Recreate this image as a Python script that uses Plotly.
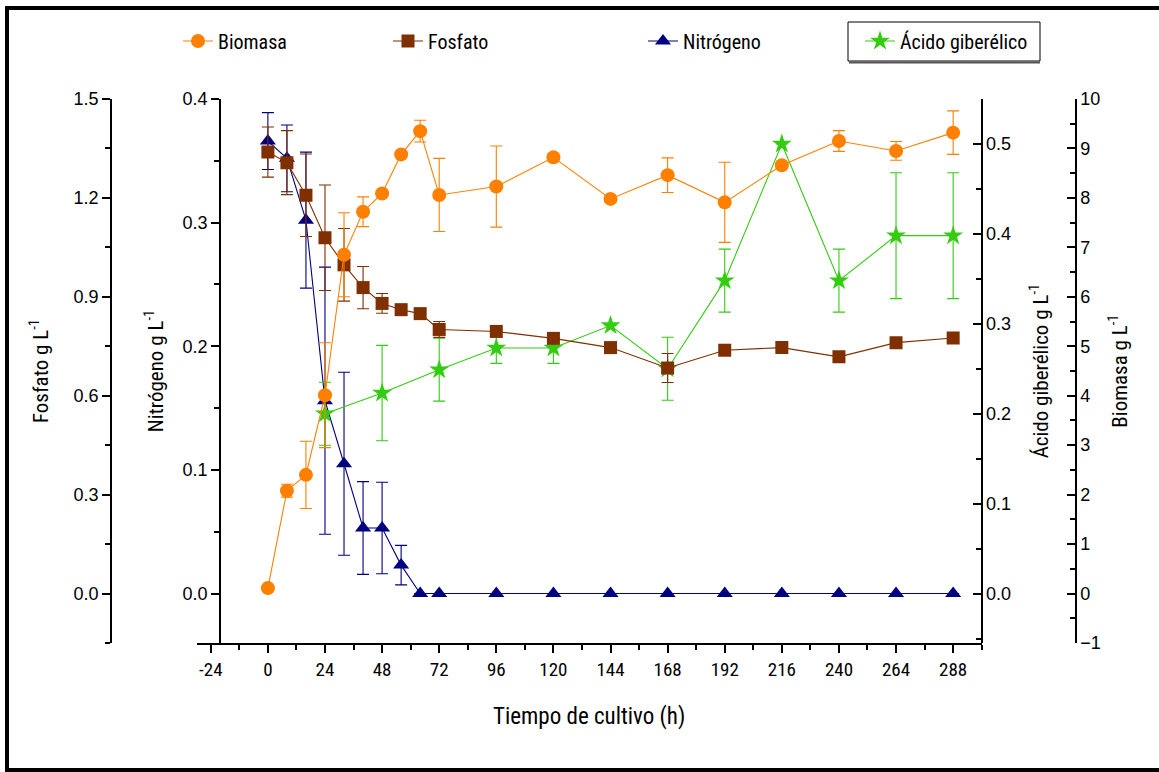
import plotly.graph_objects as go

# ---------------- data ----------------
tiempo = [0, 8, 16, 24, 32, 40, 48, 56, 64, 72, 96, 120, 144, 168, 192, 216, 240, 264, 288]

biomasa = [0.11, 2.08, 2.40, 4.01, 6.85, 7.72, 8.09, 8.88, 9.35, 8.06,
           8.23, 8.82, 7.98, 8.46, 7.91, 8.66, 9.15, 8.95, 9.32]
biomasa_err = [0, 0.13, 0.68, 1.06, 0.85, 0.30, 0.05, 0.05, 0.22, 0.74,
               0.82, 0.08, 0.05, 0.35, 0.81, 0.05, 0.21, 0.19, 0.44]

fosfato = [1.339, 1.307, 1.208, 1.079, 0.997, 0.928, 0.880, 0.861, 0.849, 0.801,
           0.795, 0.774, 0.746, 0.684, 0.738, 0.746, 0.718, 0.761, 0.775]
fosfato_err = [0.076, 0.097, 0.125, 0.160, 0.110, 0.064, 0.030, 0.010, 0.015, 0.024,
               0, 0, 0, 0.044, 0, 0, 0, 0, 0]

nitrogeno = [0.366, 0.352, 0.302, 0.156, 0.105, 0.053, 0.053, 0.023, 0, 0,
             0, 0, 0, 0, 0, 0, 0, 0, 0]
nitrogeno_err = [0.023, 0.027, 0.055, 0.108, 0.074, 0.0375, 0.037, 0.016, 0, 0,
                 0, 0, 0, 0, 0, 0, 0, 0, 0]

tiempo_ag = [24, 48, 72, 96, 120, 144, 168, 192, 216, 240, 264, 288]
acido = [0.200, 0.223, 0.249, 0.273, 0.273, 0.298, 0.250, 0.348, 0.500, 0.348, 0.398, 0.398]
acido_err = [0.035, 0.053, 0.035, 0.017, 0.017, 0, 0.035, 0.035, 0, 0.035, 0.070, 0.070]

x_ticks = [-24, 0, 24, 48, 72, 96, 120, 144, 168, 192, 216, 240, 264, 288]

# ---------------- style ----------------
NARROW = "Liberation Sans Narrow, Arial Narrow, Roboto Condensed, Liberation Sans, sans-serif"
REG = "Liberation Sans, Arial, sans-serif"
C_BIO = "#FF8000"
C_FOS = "#7F2F00"
C_NIT = "#000080"
C_AG = "#33CC11"

W, H = 1159, 772
ML, MR, MT, MB = 111, 83, 99, 129
PW = W - ML - MR
PH = H - MT - MB


def px_x(p):
    return (p - ML) / PW


def px_y(p):
    return (H - MB - p) / PH


fig = go.Figure()

# draw order bottom->top: nitrogeno, acido, fosfato, biomasa
fig.add_trace(go.Scatter(
    x=tiempo, y=nitrogeno, name="Nitrógeno", yaxis="y",
    mode="lines+markers",
    line=dict(color=C_NIT, width=1.1),
    marker=dict(symbol="triangle-up", size=14, color=C_NIT),
    error_y=dict(type="data", array=nitrogeno_err, color=C_NIT, thickness=1.1, width=6),
    legend="legend3"))

fig.add_trace(go.Scatter(
    x=tiempo_ag, y=acido, name="Ácido giberélico", yaxis="y2",
    mode="lines+markers",
    line=dict(color=C_AG, width=1.1),
    marker=dict(symbol="star", size=15, color=C_AG),
    error_y=dict(type="data", array=acido_err, color=C_AG, thickness=1.1, width=6),
    legend="legend4"))

fig.add_trace(go.Scatter(
    x=tiempo, y=fosfato, name="Fosfato", yaxis="y3",
    mode="lines+markers",
    line=dict(color=C_FOS, width=1.1),
    marker=dict(symbol="square", size=13, color=C_FOS),
    error_y=dict(type="data", array=fosfato_err, color=C_FOS, thickness=1.1, width=6),
    legend="legend2"))

fig.add_trace(go.Scatter(
    x=tiempo, y=biomasa, name="Biomasa", yaxis="y4",
    mode="lines+markers",
    line=dict(color=C_BIO, width=1.1),
    marker=dict(symbol="circle", size=14, color=C_BIO),
    error_y=dict(type="data", array=biomasa_err, color=C_BIO, thickness=1.1, width=6),
    legend="legend"))

axis_common = dict(showgrid=False, zeroline=False, showline=True, linecolor="black",
                   linewidth=1.5, ticks="outside", tickcolor="black", tickwidth=1.5,
                   ticklen=8, tickfont=dict(family=REG, size=18, color="black"))

leg_font = dict(family=NARROW, size=20, color="black")

fig.update_layout(
    width=W, height=H,
    margin=dict(l=ML, r=MR, t=MT, b=MB, autoexpand=False),
    paper_bgcolor="white", plot_bgcolor="white",
    xaxis=dict(
        domain=[px_x(196.5), px_x(981.7)], range=[-30, 300],
        tickmode="array", tickvals=x_ticks, ticktext=[str(v) for v in x_ticks],
        minor=dict(dtick=12, tick0=0, ticklen=5, tickcolor="black", tickwidth=1.5, ticks="outside"),
        anchor="y",
        title=dict(text="Tiempo de cultivo (h)", font=dict(family=NARROW, size=23, color="black"),
                   standoff=28),
        **{**axis_common, "tickfont": dict(family=NARROW, size=19, color="black")}),
    yaxis=dict(
        range=[-0.04, 0.4], anchor="free", position=px_x(220), side="left",
        dtick=0.1, tick0=0, tickformat=".1f",
        minor=dict(dtick=0.05, ticklen=5, tickcolor="black", tickwidth=1.5, ticks="outside"),
        title=dict(text="Nitrógeno g L<sup>-1</sup>", font=dict(family=NARROW, size=21, color="black"),
                   standoff=12),
        **axis_common),
    yaxis2=dict(
        range=[-0.055, 0.55], anchor="free", position=px_x(981.7), side="right", overlaying="y",
        dtick=0.1, tick0=0, tickformat=".1f",
        minor=dict(dtick=0.05, ticklen=5, tickcolor="black", tickwidth=1.5, ticks="inside"),
        title=dict(text="Ácido giberélico g L<sup>-1</sup>", font=dict(family=NARROW, size=21, color="black"),
                   standoff=22),
        **{**axis_common, "ticks": "inside"}),
    yaxis3=dict(
        range=[-0.15, 1.5], anchor="free", position=0, side="left", overlaying="y",
        dtick=0.3, tick0=0, tickformat=".1f",
        minor=dict(dtick=0.15, ticklen=5, tickcolor="black", tickwidth=1.5, ticks="outside"),
        title=dict(text="Fosfato g L<sup>-1</sup>", font=dict(family=NARROW, size=21, color="black"),
                   standoff=18),
        **axis_common),
    yaxis4=dict(
        range=[-1, 10], anchor="free", position=1, side="right", overlaying="y",
        dtick=1, tick0=0,
        minor=dict(dtick=0.5, ticklen=5, tickcolor="black", tickwidth=1.5, ticks="inside"),
        title=dict(text="Biomasa g L<sup>-1</sup>", font=dict(family=NARROW, size=21, color="black"),
                   standoff=11),
        **{**axis_common, "ticks": "inside"}),
    legend=dict(x=px_x(178), y=px_y(41), xanchor="left", yanchor="middle",
                font=leg_font, bgcolor="rgba(0,0,0,0)"),
    legend2=dict(x=px_x(388), y=px_y(41), xanchor="left", yanchor="middle",
                 font=leg_font, bgcolor="rgba(0,0,0,0)"),
    legend3=dict(x=px_x(643), y=px_y(41), xanchor="left", yanchor="middle",
                 font=leg_font, bgcolor="rgba(0,0,0,0)"),
    legend4=dict(x=px_x(860), y=px_y(41), xanchor="left", yanchor="middle",
                 font=leg_font, bgcolor="rgba(0,0,0,0)"),
    showlegend=True,
)

# outer frame
fig.add_shape(type="rect", xref="paper", yref="paper",
              x0=px_x(7), x1=px_x(1162), y0=px_y(770), y1=px_y(8),
              line=dict(color="black", width=4), fillcolor="rgba(0,0,0,0)", layer="below")
# box around the last legend entry
fig.add_shape(type="rect", xref="paper", yref="paper",
              x0=px_x(848), x1=px_x(1040), y0=px_y(61), y1=px_y(22),
              line=dict(color="black", width=1), fillcolor="white", layer="below")
fig.add_shape(type="line", xref="paper", yref="paper",
              x0=px_x(849), x1=px_x(1040), y0=px_y(62.5), y1=px_y(62.5),
              line=dict(color="#555555", width=2), layer="below")

fig.write_html("out.html")
